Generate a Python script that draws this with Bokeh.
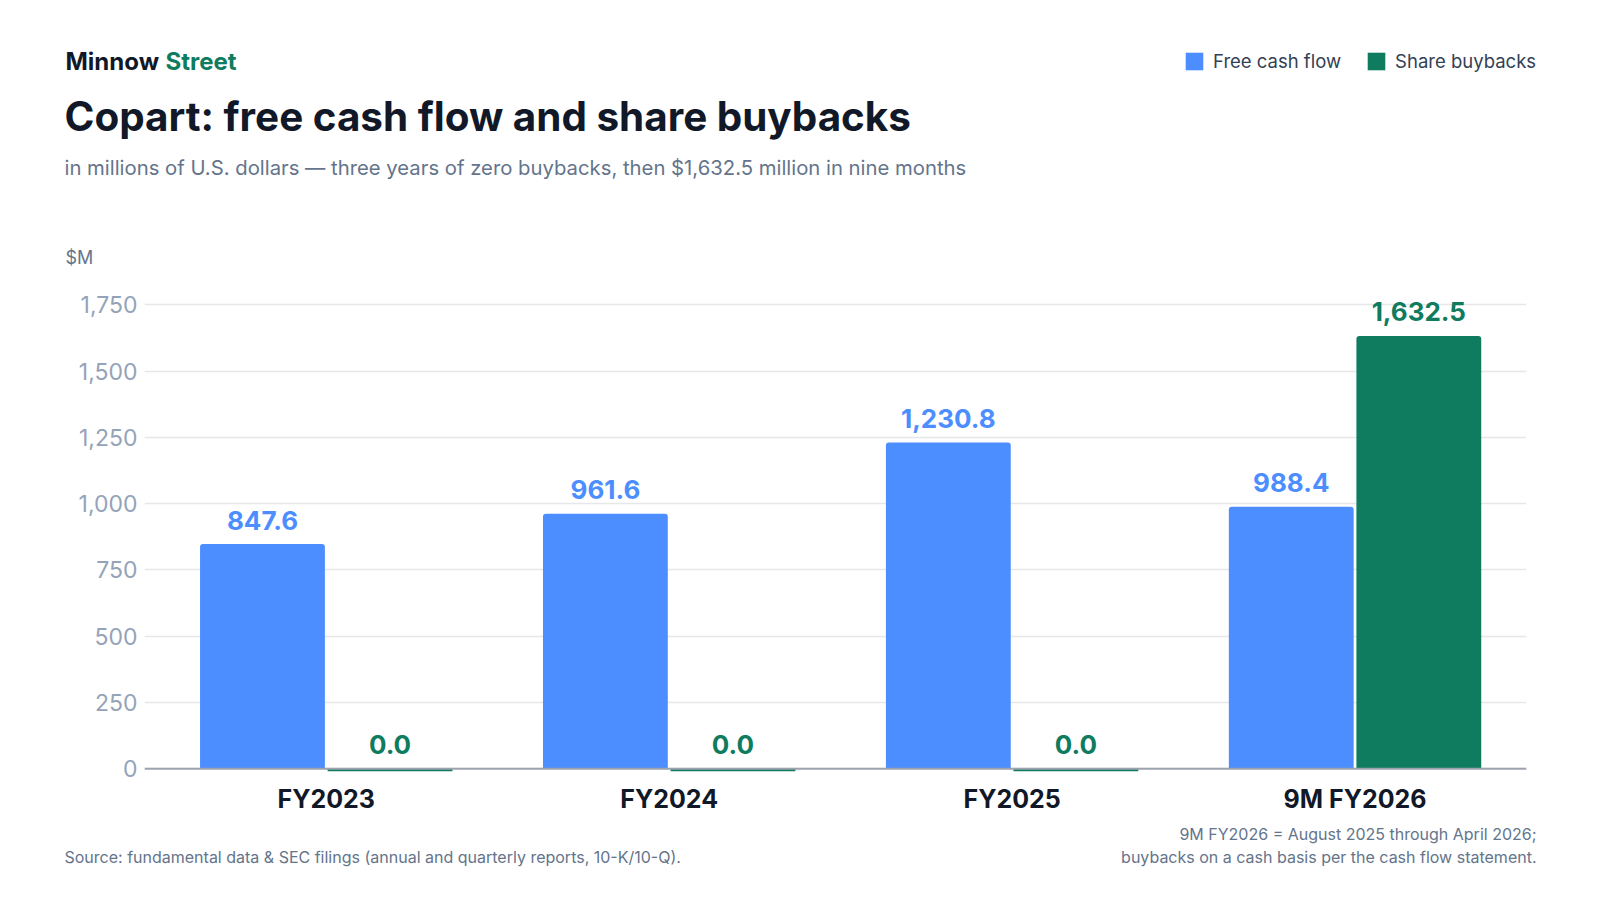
from bokeh.plotting import figure
from bokeh.models import ColumnDataSource, Label, Legend, LegendItem, FixedTicker, Range1d, Span
from bokeh.core.properties import value
from bokeh.transform import dodge
from bokeh.embed import file_html
from bokeh.resources import INLINE

# ---- data ----
categories = ["FY2023", "FY2024", "FY2025", "9M FY2026"]
free_cash_flow = [847.6, 961.6, 1230.8, 988.4]
share_buybacks = [0.0, 0.0, 0.0, 1632.5]
y_ticks = [0, 250, 500, 750, 1000, 1250, 1500, 1750]
series_names = ["Free cash flow", "Share buybacks"]

# ---- style ----
FONT = "Inter"
BLUE = "#4C8DFF"
GREEN = "#0F7B5F"
DARK = "#111827"
MUTED = "#64748B"
TICK = "#94A3B8"
LEGEND_TXT = "#334155"
GRID = "#E5E7EB"
AXIS = "#9CA3AF"
BAR_W = 0.364
OFF = 0.186
ZERO_STUB = 10  # minimum visible height (data units) drawn for zero-valued bars
W = 1584
HEAD_H, MAIN_H, FOOT_H = 283, 540, 73
BASE_K = 0.4  # Bokeh's alphabetic baseline sits ~0.4em low; compensate


def canvas(height):
    f = figure(width=W, height=height, output_backend="svg", toolbar_location=None,
               x_range=Range1d(0, W), y_range=Range1d(height, 0),
               min_border=0, min_border_left=0, min_border_right=0,
               min_border_top=0, min_border_bottom=0)
    f.axis.visible = False
    f.grid.visible = False
    f.outline_line_color = None
    return f


def lab(fig, text, x, baseline, size, color, bold=False, align="left"):
    fig.add_layout(Label(x=x, y=baseline - BASE_K * size, text=text, text_font=FONT,
                         text_font_size=f"{size}px", text_color=color,
                         text_font_style="bold" if bold else "normal",
                         text_align=align, text_baseline="alphabetic"))


# ---- header ----
head = canvas(HEAD_H)
lab(head, "Minnow", 65, 71, 24, DARK, bold=True)
lab(head, "Street", 165, 71, 24, GREEN, bold=True)
lab(head, "Copart: free cash flow and share buybacks", 64, 131.7, 40.4, DARK, bold=True)
lab(head, "in millions of U.S. dollars \u2014 three years of zero buybacks, then $1,632.5 million in nine months",
    64, 175, 20.3, MUTED)
lab(head, "$M", 65, 264, 18, MUTED)
lr1 = head.vbar(x=[0], top=[0], bottom=[0], width=0, fill_color=BLUE, line_color=None)
lr2 = head.vbar(x=[0], top=[0], bottom=[0], width=0, fill_color=GREEN, line_color=None)
legend = Legend(items=[LegendItem(label=series_names[0], renderers=[lr1]),
                       LegendItem(label=series_names[1], renderers=[lr2])],
                orientation="horizontal", location=(1183, HEAD_H - 72),
                glyph_width=22, glyph_height=22, label_height=18, label_standoff=8,
                spacing=24, padding=0, margin=0, border_line_color=None,
                background_fill_alpha=0, label_text_font=FONT,
                label_text_font_size="18.5px", label_text_color=LEGEND_TXT)
head.add_layout(legend)

# ---- main chart ----
xs = list(range(len(categories)))
src = ColumnDataSource(dict(
    x=xs,
    fcf=free_cash_flow,
    buy=share_buybacks,
    fcf_lbl=[f"{v:,.1f}" for v in free_cash_flow],
    buy_lbl=[f"{v:,.1f}" for v in share_buybacks],
))
zero_idx = [i for i, v in enumerate(share_buybacks) if v == 0]
zsrc = ColumnDataSource(dict(x=[xs[i] for i in zero_idx]))

p = figure(width=W, height=MAIN_H, output_backend="svg", toolbar_location=None,
           x_range=Range1d(-0.53, 3.5), y_range=Range1d(-ZERO_STUB, 1800),
           min_border_left=144, min_border_right=58, min_border_top=8, min_border_bottom=52)
p.outline_line_color = None

p.vbar(x=dodge("x", -OFF), width=BAR_W, top="fcf", bottom=0, source=src,
       fill_color=BLUE, line_color=None, border_radius=(3, 3, 0, 0))
p.vbar(x=dodge("x", OFF), width=BAR_W, top="buy", bottom=0, source=src,
       fill_color=GREEN, line_color=None, border_radius=(3, 3, 0, 0))
p.vbar(x=dodge("x", OFF), width=BAR_W, top=0, bottom=-ZERO_STUB, source=zsrc,
       fill_color=GREEN, line_color=None)

p.add_layout(Span(location=0, dimension="width", line_color=AXIS, line_width=2))

p.text(x=dodge("x", -OFF), y="fcf", text="fcf_lbl", source=src, y_offset=-24,
       text_align="center", text_baseline="alphabetic", text_color=BLUE,
       text_font=value(FONT), text_font_style="bold", text_font_size="26px")
p.text(x=dodge("x", OFF), y="buy", text="buy_lbl", source=src, y_offset=-24,
       text_align="center", text_baseline="alphabetic", text_color=GREEN,
       text_font=value(FONT), text_font_style="bold", text_font_size="26px")

p.xaxis.ticker = FixedTicker(ticks=xs)
p.xaxis.major_label_overrides = {i: c for i, c in zip(xs, categories)}
p.xaxis.axis_line_color = None
p.xaxis.major_tick_line_color = None
p.xaxis.minor_tick_line_color = None
p.xaxis.major_label_standoff = 6
p.xaxis.major_label_text_font = FONT
p.xaxis.major_label_text_font_style = "bold"
p.xaxis.major_label_text_font_size = "25px"
p.xaxis.major_label_text_color = DARK

p.yaxis.ticker = FixedTicker(ticks=y_ticks)
p.yaxis.major_label_overrides = {t: f"{t:,}" for t in y_ticks}
p.yaxis.axis_line_color = None
p.yaxis.major_tick_line_color = None
p.yaxis.minor_tick_line_color = None
p.yaxis.major_label_standoff = 1
p.yaxis.major_label_text_font = FONT
p.yaxis.major_label_text_font_size = "23px"
p.yaxis.major_label_text_color = TICK

p.xgrid.grid_line_color = None
p.ygrid.grid_line_color = GRID
p.ygrid.grid_line_width = 1.5

# ---- footer ----
foot = canvas(FOOT_H)
lab(foot, "Source: fundamental data & SEC filings (annual and quarterly reports, 10-K/10-Q).",
    64, 40, 16, MUTED)
lab(foot, "9M FY2026 = August 2025 through April 2026;", 1536, 16.8, 16, MUTED, align="right")
lab(foot, "buybacks on a cash basis per the cash flow statement.", 1536, 40, 16, MUTED, align="right")

open("out.html", "w").write(file_html([head, p, foot], INLINE))
